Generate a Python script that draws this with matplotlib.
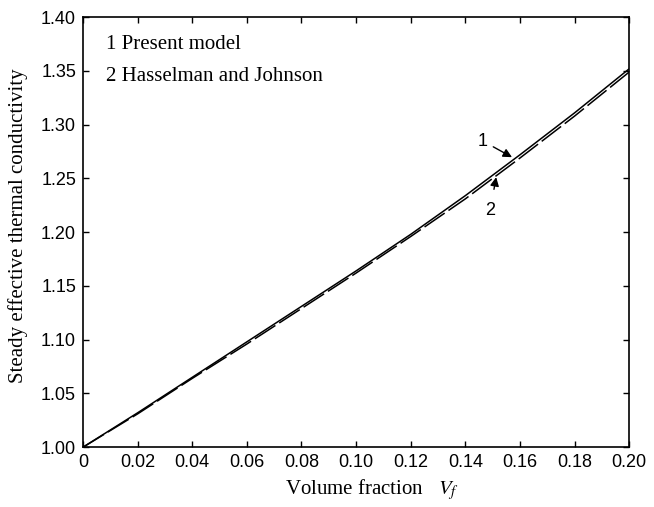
import matplotlib
matplotlib.use("Agg")
import matplotlib.pyplot as plt

vf = [0.0, 0.02, 0.04, 0.06, 0.08, 0.10, 0.12, 0.14, 0.16, 0.18, 0.20]
present_model = [1.000, 1.032, 1.065, 1.098, 1.131, 1.164, 1.198, 1.234, 1.272, 1.311, 1.352]
hasselman_johnson = [1.000, 1.031, 1.064, 1.096, 1.129, 1.162, 1.196, 1.231, 1.269, 1.308, 1.349]
xticks = [0, 0.02, 0.04, 0.06, 0.08, 0.10, 0.12, 0.14, 0.16, 0.18, 0.20]
xticklabels = ["0", "0.02", "0.04", "0.06", "0.08", "0.10", "0.12", "0.14", "0.16", "0.18", "0.20"]
yticks = [1.00, 1.05, 1.10, 1.15, 1.20, 1.25, 1.30, 1.35, 1.40]
yticklabels = ["1.00", "1.05", "1.10", "1.15", "1.20", "1.25", "1.30", "1.35", "1.40"]

sans = "Liberation Sans"
serif = "Liberation Serif"
plt.rcParams["mathtext.fontset"] = "stix"

fig = plt.figure(figsize=(6.54, 5.07), dpi=100)
ax = fig.add_axes([0.127, 0.118, 0.835, 0.848])

ax.plot(vf, present_model, color="black", lw=1.1, solid_capstyle="butt")
ax.plot(vf, hasselman_johnson, color="black", lw=1.1, dashes=(16, 3))

ax.set_xlim(0, 0.20)
ax.set_ylim(1.00, 1.40)
ax.set_xticks(xticks)
ax.set_xticklabels(xticklabels, fontfamily=sans, fontsize=13)
ax.set_yticks(yticks)
ax.set_yticklabels(yticklabels, fontfamily=sans, fontsize=13)
ax.tick_params(direction="in", length=4, width=1.0, top=True, right=True, pad=5)
for s in ax.spines.values():
    s.set_linewidth(1.2)

ax.set_xlabel("Volume fraction   $V_f$", fontfamily=serif, fontsize=15, labelpad=4)
ax.xaxis.label.set_x(0.529)
ax.set_ylabel("Steady effective thermal conductivity", fontfamily=serif, fontsize=15)
ax.yaxis.set_label_coords(-0.100, 0.514)

ax.text(0.0084, 1.375, "1 Present model", fontfamily=serif, fontsize=15, va="center")
ax.text(0.0084, 1.345, "2 Hasselman and Johnson", fontfamily=serif, fontsize=15, va="center")

ax.annotate("1", xy=(0.1571, 1.2698), xytext=(0.1465, 1.2847), fontfamily=sans, fontsize=13,
            ha="center", va="center",
            arrowprops=dict(arrowstyle="-|>", color="black", lw=1.0, mutation_scale=13,
                            shrinkA=2, shrinkB=0))
ax.annotate("2", xy=(0.1513, 1.2512), xytext=(0.1491, 1.2205), fontfamily=sans, fontsize=13,
            ha="center", va="center",
            arrowprops=dict(arrowstyle="-|>", color="black", lw=1.0, mutation_scale=13,
                            shrinkA=7, shrinkB=0))

fig.savefig("out.png", dpi=100)
